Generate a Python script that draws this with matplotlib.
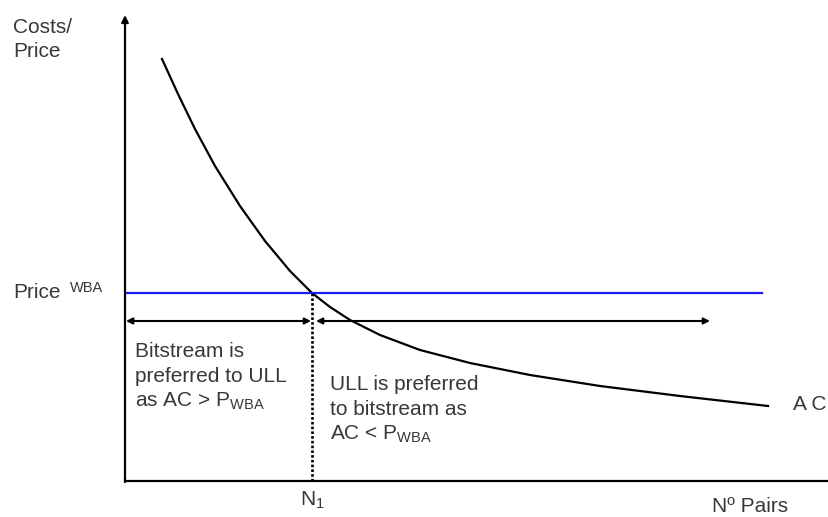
import matplotlib
matplotlib.use('Agg')
import matplotlib.pyplot as plt
import numpy as np

# values (arbitrary units: Nº pairs vs cost)
ac_pairs = [37, 53, 70, 90, 115, 140, 165, 187, 205, 225, 255, 295, 345, 405, 475, 555, 643]
ac_cost = [422, 387, 352, 315, 275, 240, 210, 188, 174, 161, 146, 131, 118, 106, 95, 85, 75]
price_wba = 188
price_end = 637
n1 = 187
arrow_level = 160
right_arrow_end = 585

plt.rcParams['font.family'] = ['Liberation Sans', 'DejaVu Sans']
plt.rcParams['mathtext.fontset'] = 'custom'
plt.rcParams['mathtext.rm'] = 'Liberation Sans'
plt.rcParams['mathtext.it'] = 'Liberation Sans'
txt = '#383838'

fig = plt.figure(figsize=(8.29, 5.17), dpi=100)
ax = fig.add_axes([125 / 829, 36 / 517, 704 / 829, 466 / 517])
ax.set_xlim(0, 704)
ax.set_ylim(0, 466)
for s in ['top', 'right', 'left']:
  ax.spines[s].set_visible(False)
ax.spines['bottom'].set_linewidth(1.6)
ax.set_xticks([])
ax.set_yticks([])

# y axis with arrow
ax.annotate('', xy=(0, 466), xytext=(0, -1), annotation_clip=False,
            arrowprops=dict(arrowstyle='-|>', lw=1.6, color='black',
                            mutation_scale=10, shrinkA=0, shrinkB=0))

# average cost curve and price line
ax.plot(ac_pairs, ac_cost, color='black', lw=1.6, solid_joinstyle='round')
ax.plot([0, price_end], [price_wba, price_wba], color='#1a1aee', lw=1.6)
ax.plot([n1, n1], [0, price_wba], color='black', lw=1.9, ls=(0, (1, 0.8)))

# regions arrows
ax.annotate('', xy=(n1 - 1, arrow_level), xytext=(1, arrow_level),
            arrowprops=dict(arrowstyle='<|-|>', lw=1.5, color='black',
                            mutation_scale=9, shrinkA=0, shrinkB=0))
ax.annotate('', xy=(right_arrow_end, arrow_level), xytext=(n1 + 4, arrow_level),
            arrowprops=dict(arrowstyle='<|-|>', lw=1.5, color='black',
                            mutation_scale=9, shrinkA=0, shrinkB=0))

fs = 15
ax.text(-112, 448, 'Costs/', fontsize=fs, color=txt, va='baseline', clip_on=False)
ax.text(-112, 424, 'Price', fontsize=fs, color=txt, va='baseline', clip_on=False)
ax.text(-112, 183, 'Price', fontsize=fs, color=txt, va='baseline', clip_on=False)
ax.text(-55, 189, 'WBA', fontsize=10.5, color=txt, va='baseline', clip_on=False)

left_lines = ['Bitstream is', 'preferred to ULL', r'as AC > P$_{\mathrm{WBA}}$']
for i, line in enumerate(left_lines):
  ax.text(10, 124 - 25 * i, line, fontsize=fs, color=txt, va='baseline')

right_lines = ['ULL is preferred', 'to bitstream as', r'AC < P$_{\mathrm{WBA}}$']
for i, line in enumerate(right_lines):
  ax.text(205, 91 - 25 * i, line, fontsize=fs, color=txt, va='baseline')

ax.text(668, 71, 'A C', fontsize=fs, color=txt, va='baseline', clip_on=False)
ax.text(175, -25, r'N$_{1}$', fontsize=fs, color=txt, va='baseline', clip_on=False)
ax.text(587, -31, 'Nº Pairs', fontsize=fs, color=txt, va='baseline', clip_on=False)

fig.savefig('out.png', dpi=100)
plt.close()
